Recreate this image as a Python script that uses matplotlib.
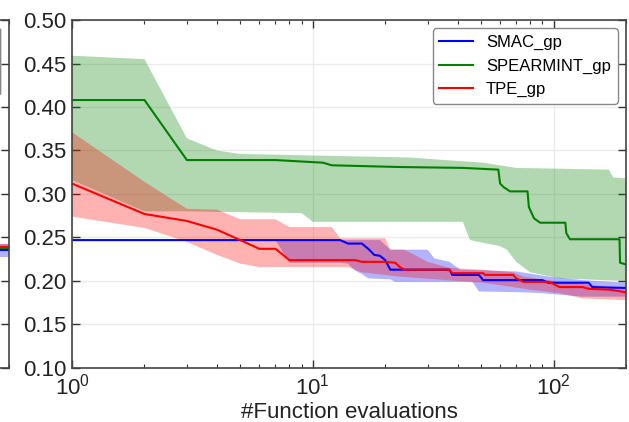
import numpy as np
import matplotlib
matplotlib.use("Agg")
import matplotlib.pyplot as plt
from matplotlib.patches import FancyBboxPatch

plt.rcParams['font.family'] = ['Liberation Sans', 'DejaVu Sans']
plt.rcParams['mathtext.fontset'] = 'custom'
plt.rcParams['mathtext.rm'] = 'Liberation Sans'
plt.rcParams['mathtext.it'] = 'Liberation Sans'

labels = ["SMAC_gp", "SPEARMINT_gp", "TPE_gp"]
colors = ["#0000ff", "#008000", "#ff0000"]

# SMAC_gp
smac_x = [1, 13, 14, 16, 17, 18, 19, 20, 21, 37, 38, 49, 51, 90, 95, 140, 145, 200]
smac_y = [0.247, 0.247, 0.243, 0.243, 0.237, 0.230, 0.229, 0.224, 0.213, 0.213,
          0.207, 0.207, 0.201, 0.201, 0.198, 0.198, 0.193, 0.192]
smac_hi_x = [1, 19, 21, 30, 32, 37, 41, 70, 96, 132, 200]
smac_hi_y = [0.247, 0.247, 0.236, 0.236, 0.226, 0.222, 0.213, 0.211, 0.205, 0.201, 0.198]
smac_lo_x = [1, 7, 8, 13, 14, 15, 16, 17, 21, 22, 46, 49, 75, 90, 132, 200]
smac_lo_y = [0.247, 0.247, 0.221, 0.221, 0.220, 0.212, 0.208, 0.203, 0.202, 0.199,
             0.199, 0.188, 0.187, 0.186, 0.182, 0.182]

# SPEARMINT_gp
sp_x = [1, 2, 3, 7, 11, 12, 23, 42, 59, 60, 62, 66, 78, 79, 83, 88, 112, 113, 117,
        188, 189, 200]
sp_y = [0.408, 0.408, 0.339, 0.339, 0.336, 0.333, 0.331, 0.330, 0.328, 0.312, 0.308,
        0.303, 0.303, 0.285, 0.272, 0.267, 0.267, 0.255, 0.248, 0.248, 0.221, 0.219]
sp_hi_x = [1, 2, 3, 4, 5, 25, 51, 70, 170, 177, 200]
sp_hi_y = [0.459, 0.455, 0.364, 0.350, 0.346, 0.342, 0.336, 0.330, 0.328, 0.319, 0.318]
sp_lo_x = [1, 2, 3, 9, 10, 42, 45, 60, 64, 70, 80, 106, 200]
sp_lo_y = [0.316, 0.280, 0.280, 0.278, 0.268, 0.268, 0.247, 0.240, 0.236, 0.222,
           0.210, 0.203, 0.200]

# TPE_gp
tpe_x = [1, 2, 3, 4, 5, 6, 7, 8, 15, 16, 20, 22, 23, 24, 37, 38, 51, 52, 68, 70, 75,
         96, 106, 132, 140, 171, 200]
tpe_y = [0.312, 0.277, 0.269, 0.259, 0.247, 0.237, 0.237, 0.224, 0.224, 0.222, 0.222,
         0.221, 0.216, 0.213, 0.213, 0.209, 0.209, 0.207, 0.207, 0.203, 0.199, 0.199,
         0.193, 0.193, 0.191, 0.190, 0.187]
tpe_hi_x = [1, 2, 3, 4, 5, 7, 8, 12, 13, 20, 21, 24, 30, 37, 51, 68, 75, 106, 150, 200]
tpe_hi_y = [0.371, 0.314, 0.283, 0.282, 0.271, 0.271, 0.262, 0.262, 0.249, 0.249,
            0.236, 0.236, 0.222, 0.215, 0.213, 0.210, 0.205, 0.199, 0.195, 0.190]
tpe_lo_x = [1, 2, 3, 4, 5, 6, 14, 16, 23, 40, 51, 68, 80, 106, 132, 200]
tpe_lo_y = [0.274, 0.261, 0.245, 0.230, 0.220, 0.216, 0.216, 0.210, 0.205, 0.200,
            0.198, 0.193, 0.190, 0.186, 0.180, 0.178]

# tail of neighbouring panel (only right edge visible)
left_x = [150, 200]
left_smac = [0.236, 0.236]
left_smac_hi = [0.243, 0.243]
left_smac_lo = [0.228, 0.228]
left_sp = [0.238, 0.238]
left_tpe = [0.2395, 0.2395]
left_tpe_hi = [0.242, 0.242]
left_tpe_lo = [0.236, 0.236]

fig = plt.figure(figsize=(6.29, 4.22), dpi=100)

def style(ax):
    ax.set_xscale('log')
    ax.set_xlim(1, 200)
    ax.set_ylim(0.10, 0.50)
    ax.set_yticks(np.arange(0.10, 0.501, 0.05))
    ax.grid(True, which='major', color='#ebebeb', lw=1)
    ax.set_axisbelow(True)
    ax.tick_params(which='both', direction='in', top=True, right=True,
                   colors='#333333', labelcolor='#222222', labelsize=16)
    ax.tick_params(which='major', length=6, width=1, pad=4)
    ax.tick_params(which='minor', length=3, width=0.8)
    for s in ax.spines.values():
        s.set_color('#444444')
        s.set_linewidth(1.2)

def band(ax, xh, yh, xl, yl, c):
    px = np.concatenate([xh, xl[::-1]])
    py = np.concatenate([yh, yl[::-1]])
    ax.fill(px, py, color=c, alpha=0.3, lw=0)

# left neighbouring panel (only its right edge lies inside the picture)
ax0 = fig.add_axes([-0.85, 0.128, 0.864, 0.8246])
style(ax0)
ax0.set_yticklabels([])
ax0.set_xticklabels([])
ax0.fill_between(left_x, left_smac_lo, left_smac_hi, color=colors[0], alpha=0.3, lw=0)
ax0.fill_between(left_x, left_tpe_lo, left_tpe_hi, color=colors[2], alpha=0.3, lw=0)
ax0.plot(left_x, left_smac, color=colors[0], lw=1.5)
ax0.plot(left_x, left_sp, color=colors[1], lw=1.5)
ax0.plot(left_x, left_tpe, color=colors[2], lw=1.5)
# the neighbouring legend's frame (its text lies outside the picture)
legbox = FancyBboxPatch((0.60, 0.785), 0.385, 0.19, transform=ax0.transAxes,
                        boxstyle='round,pad=0,rounding_size=0.004',
                        facecolor='white', edgecolor='#888888', lw=1, zorder=5)
ax0.add_patch(legbox)

# main panel
ax = fig.add_axes([0.1145, 0.128, 0.8807, 0.8246])
style(ax)

band(ax, smac_hi_x, smac_hi_y, smac_lo_x, smac_lo_y, colors[0])
band(ax, sp_hi_x, sp_hi_y, sp_lo_x, sp_lo_y, colors[1])
band(ax, tpe_hi_x, tpe_hi_y, tpe_lo_x, tpe_lo_y, colors[2])
ax.plot(smac_x, smac_y, color=colors[0], lw=1.5, label=labels[0])
ax.plot(sp_x, sp_y, color=colors[1], lw=1.5, label=labels[1])
ax.plot(tpe_x, tpe_y, color=colors[2], lw=1.5, label=labels[2])

ax.set_xlabel('#Function evaluations', fontsize=16, color='#222222', labelpad=2)
ax.legend(loc='upper right', fontsize=12, fancybox=True, framealpha=1,
          edgecolor='#888888', handlelength=2.0)

fig.savefig('out.png', dpi=100)
